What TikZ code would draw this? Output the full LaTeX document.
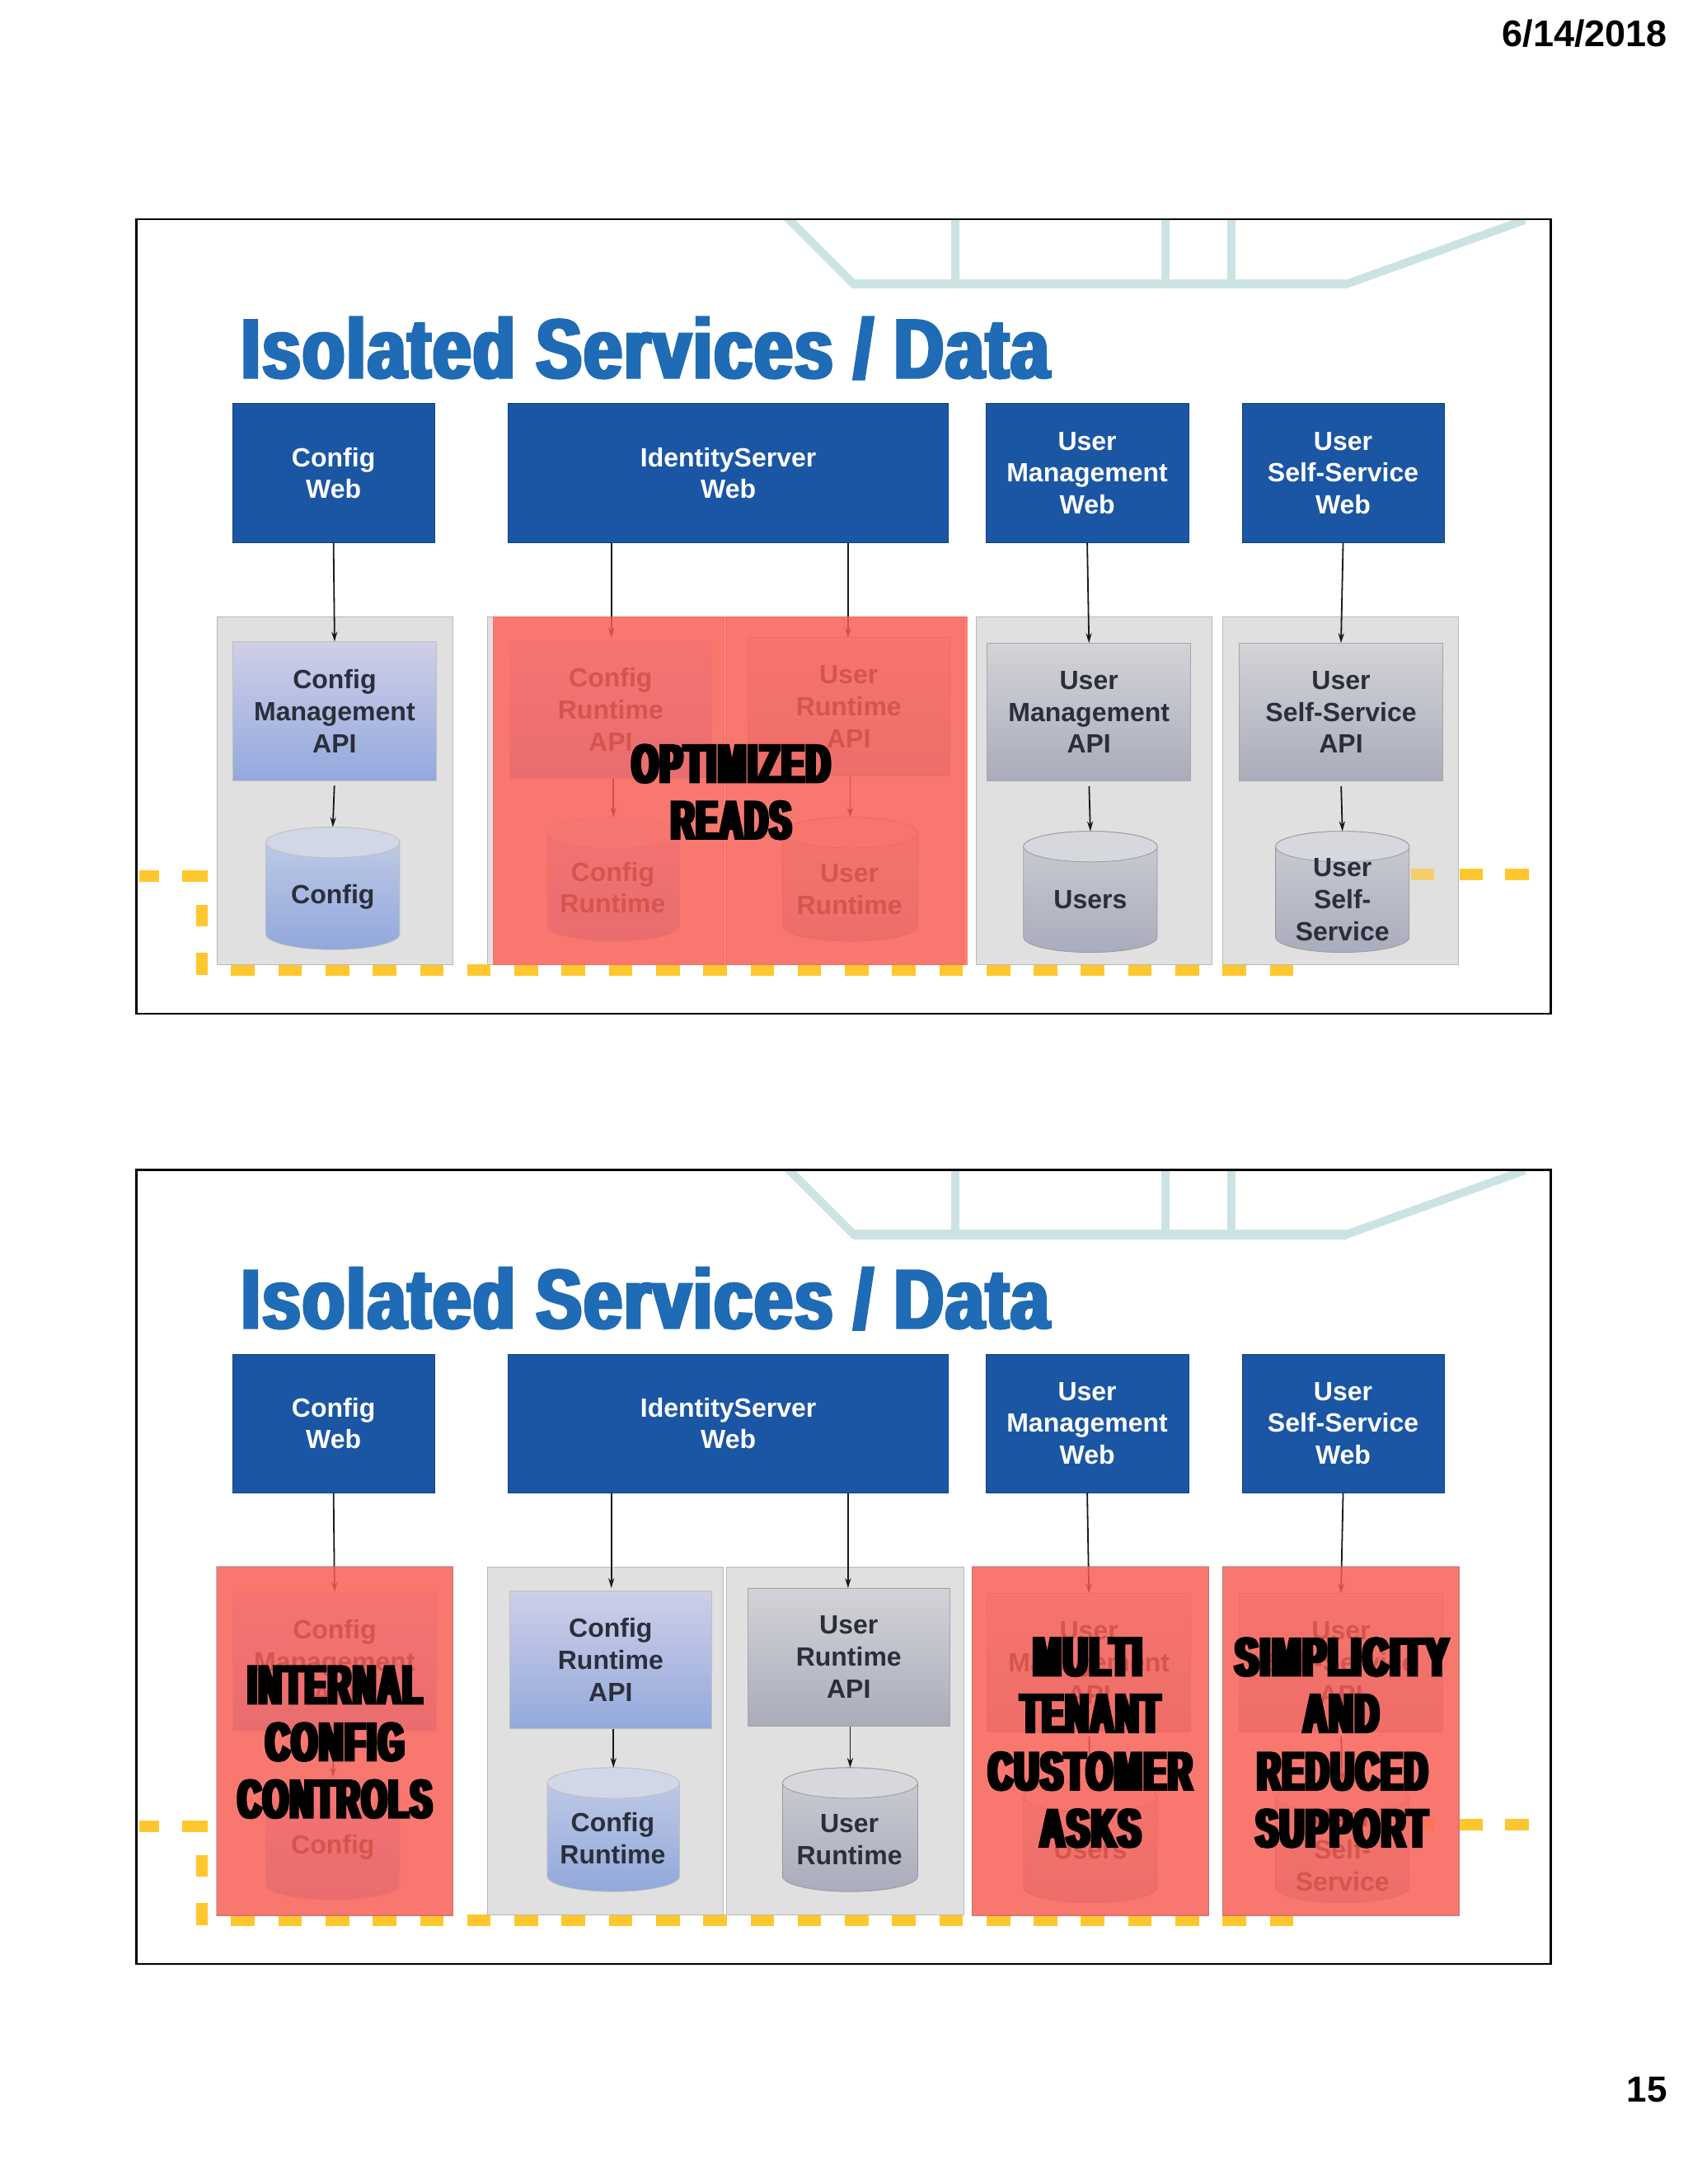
\documentclass[tikz,border=0pt]{standalone}
\usepackage{fontspec}
\usepackage{graphicx}
\usetikzlibrary{arrows.meta,calc}
\setmainfont{Liberation Sans}
\newfontfamily\heavy[FakeStretch=0.15,FakeBold=2.5,LetterSpace=1]{Liberation Sans Bold}
\newfontfamily\ttl[FakeStretch=0.26,FakeBold=1.8,LetterSpace=0.8]{Liberation Sans Bold}
\newdimen\vu \vu=0.8448pt
\definecolor{webblue}{HTML}{1A56A4}
\definecolor{webedge}{HTML}{12407F}
\definecolor{titleblue}{HTML}{1F6BB5}
\definecolor{tealline}{HTML}{CBE3E3}
\definecolor{yel}{HTML}{FFC72E}
\definecolor{hit}{HTML}{FF5E54}
\definecolor{inktxt}{HTML}{2A2F3A}
\tikzset{
  webbox/.style={fill=webblue,draw=webedge,line width=.5pt,text=white,align=center,font=\bfseries\fontsize{16}{19.4}\selectfont,inner sep=0pt},
  panelbox/.style={fill=black!12,draw=black!28,line width=.5pt},
  apitext/.style={text=inktxt,align=center,font=\bfseries\fontsize{16}{19.4}\selectfont,inner sep=0pt},
  blueapi/.style={apitext,draw=black!25,line width=.4pt,top color={rgb,255:red,207;green,207;blue,232},bottom color={rgb,255:red,147;green,169;blue,220}},
  grayapi/.style={apitext,draw=black!35,line width=.4pt,top color={rgb,255:red,211;green,211;blue,216},bottom color={rgb,255:red,169;green,172;blue,186}},
  bluecyl/.style={draw=black!25,line width=.4pt,top color={rgb,255:red,195;green,205;blue,230},bottom color={rgb,255:red,146;green,168;blue,220}},
  graycyl/.style={draw=black!40,line width=.4pt,top color={rgb,255:red,204;green,206;blue,212},bottom color={rgb,255:red,169;green,172;blue,188}},
  bluelid/.style={draw=black!25,line width=.4pt,fill={rgb,255:red,210;green,215;blue,232}},
  graylid/.style={draw=black!40,line width=.4pt,fill={rgb,255:red,214;green,216;blue,222}},
  flow/.style={draw=black!90,line width=.9pt,-{Stealth[length=6pt,width=3.6pt]}},
  hitbox/.style={fill=hit,fill opacity=.8,draw=black!50,draw opacity=.5,line width=.5pt},
  yeldash/.style={draw=yel,line width=6.8pt,dash pattern=on 14.32pt off 14.32pt},
  yelbar/.style={draw=yel,line width=6.8pt},
  slideframe/.style={draw=black,line width=1.4pt},
  tealband/.style={draw=tealline,line width=5pt,line join=miter},
  bigword/.style={text=black,inner sep=0pt},
}
\newcommand\blk[3]{\resizebox{#1\vu}{#2\vu}{\heavy\fontsize{32}{36}\selectfont #3}}
\newcommand\apibox[7]{%
  \node[#6,minimum width=#3\vu-#2\vu,minimum height=#5\vu-#4\vu] (#1) at ({(#2+#3)/2},{(#4+#5)/2}) {#7};}
\newcommand\webnode[6]{%
  \node[webbox,minimum width=#3\vu-#2\vu,minimum height=#5\vu-#4\vu] (#1) at ({(#2+#3)/2},{(#4+#5)/2}) {#6};}
\newcommand\cyl[9]{%
  \pgfmathsetmacro\cc{(#2+#3)/2}\pgfmathsetmacro\cw{(#3-#2)/2}
  \pgfmathsetmacro\ct{#4+11}\pgfmathsetmacro\cb{#5-11}
  \draw[#6cyl] (#2,\ct) -- (#2,\cb) .. controls (#2,\cb+6) and (\cc-.55*\cw,\cb+11) .. (\cc,\cb+11)
     .. controls (\cc+.55*\cw,\cb+11) and (#3,\cb+6) .. (#3,\cb) -- (#3,\ct)
     .. controls (#3,\ct-6) and (\cc+.55*\cw,\ct-11) .. (\cc,\ct-11)
     .. controls (\cc-.55*\cw,\ct-11) and (#2,\ct-6) .. (#2,\ct) -- cycle;
  \draw[#6lid] (\cc,\ct) ellipse [x radius=\cw, y radius=11];
  \coordinate (#1) at (\cc,#4);
  \node[apitext] (#1t) at (#7,#8) {#9};}
\newcommand\drawslide[3]{%
  \begin{scope}
    \clip (98,157.5) rectangle (1113.5,728);
    \draw[tealband] (565,156) -- (613,204) -- (967,204) -- (1095,158);
    \draw[tealband,line width=5.8pt] (613,204) -- (967,204);
    \draw[tealband] (686,156) -- (686,204);
    \draw[tealband] (837,156) -- (837,204);
    \draw[tealband] (884,156) -- (884,204);
  \end{scope}
  \draw[slideframe] (98,157.5) rectangle (1113.5,728);
  \node[anchor=base west,inner sep=0pt,text=titleblue] (#1title) at (173,271.5) {\resizebox{580\vu}{44\vu}{\ttl\fontsize{52}{60}\selectfont Isolated Services / Data}};
  % dashed yellow route
  \draw[yelbar] (100,629) -- (114,629);
  \draw[yelbar] (131,629) -- (149,629);
  \draw[yelbar] (145,650) -- (145,665);
  \draw[yelbar] (145,684) -- (145,700);
  \draw[yeldash] (166,696.5) -- (929,696.5);
  \draw[yelbar] (1048,628) -- (1065,628);
  \draw[yelbar] (1081,628) -- (1098,628);
  % panels
  \draw[panelbox] (156,443) rectangle (325,693);
  \draw[panelbox] (350,443) rectangle (519.5,693);
  \draw[panelbox] (522,443) rectangle (692,693);
  \draw[panelbox] (#2,443) rectangle (#3,693);
  \draw[panelbox] (878,443) rectangle (1047.5,693);
  \draw[yelbar,opacity=.65] (1013,628) -- (1030,628);
  % web row
  \webnode{#1wc}{167}{312}{290}{389.5}{Config\\Web}
  \webnode{#1wi}{365}{681}{290}{389.5}{IdentityServer\\Web}
  \webnode{#1wu}{708}{853.5}{290}{389.5}{User\\Management\\Web}
  \webnode{#1ws}{892}{1037}{290}{389.5}{User\\Self-Service\\Web}
  % api row
  \apibox{#1ac}{167}{313.5}{461}{560.5}{blueapi}{Config\\Management\\API}
  \apibox{#1ar}{366}{511}{460}{559}{blueapi}{Config\\Runtime\\API}
  \apibox{#1ap}{537}{682}{458}{557}{grayapi}{User\\Runtime\\API}
  \apibox{#1au}{709}{855}{462}{561}{grayapi}{User\\Management\\API}
  \apibox{#1as}{890}{1036}{462}{561}{grayapi}{User\\Self-Service\\API}
  % stores
  \cyl{#1dc}{191}{287}{594}{682}{blue}{239}{644}{Config}
  \cyl{#1dr}{393}{488}{587}{676}{blue}{440}{637.5}{Config\\Runtime}
  \cyl{#1dp}{562}{659}{587}{676}{gray}{610}{638.5}{User\\Runtime}
  \cyl{#1du}{735}{831}{597}{684}{gray}{783}{646}{Users}
  \cyl{#1ds}{916}{1012}{597}{684}{gray}{964}{646}{User\\Self-\\Service}
  % connectors
  \draw[flow] (#1wc.south) -- (#1ac.north);
  \draw[flow] (#1wi.south -| 439,0) -- (439,458);
  \draw[flow] (#1wi.south -| 609,0) -- (609,458);
  \draw[flow] (#1wu.south) -- (#1au.north);
  \draw[flow] (#1ws.south) -- (#1as.north);
  \draw[flow,shorten <=3pt] (#1ac.south) -- (#1dc);
  \draw[flow] (#1ar.south -| #1dr) -- (#1dr);
  \draw[flow] (#1ap.south -| #1dp) -- (#1dp);
  \draw[flow,shorten <=3pt] (#1au.south) -- (#1du);
  \draw[flow,shorten <=3pt] (#1as.south) -- (#1ds);
}
\begin{document}
\begin{tikzpicture}[x=\vu,y=-\vu]
  \useasboundingbox (0,0) rectangle (1212.1,1568.5);
  \fill[white] (0,0) rectangle (1212.1,1568.5);
  \node[anchor=east,inner sep=0pt,font=\bfseries\fontsize{22.5}{26}\selectfont] (date) at (1197.5,24) {6/14/2018};
  \node[anchor=east,inner sep=0pt,font=\bfseries\fontsize{22}{26}\selectfont] (pageno) at (1197.5,1501) {15};
  \begin{scope}
    \drawslide{a}{701}{870.5}
    \draw[hitbox,draw=none] (354,443) rectangle (520.5,693);
    \draw[hitbox,draw=none] (520.5,443) rectangle (695,693);
    \node[bigword] (a1) at (525,548.5) {\blk{142}{27.5}{OPTIMIZED}};
    \node[bigword] (a2) at (525,589) {\blk{86}{27.5}{READS}};
  \end{scope}
  \begin{scope}[yshift=-682.5*\vu]
    \drawslide{b}{698}{868}
    \draw[hitbox] (155.5,442.5) rectangle (325.5,693.5);
    \draw[hitbox] (698,442.5) rectangle (868,693.5);
    \draw[hitbox] (878,442.5) rectangle (1048,693.5);
    \node[bigword] (b1) at (240.5,527.5) {\blk{125}{27.5}{INTERNAL}};
    \node[bigword] (b2) at (240.5,568.5) {\blk{99}{27.5}{CONFIG}};
    \node[bigword] (b3) at (240.5,609.5) {\blk{139}{27.5}{CONTROLS}};
    \node[bigword] (b4) at (781,507.5) {\blk{78}{27.5}{MULTI}};
    \node[bigword] (b5) at (783,548) {\blk{100}{27.5}{TENANT}};
    \node[bigword] (b6) at (783,589.5) {\blk{146}{27.5}{CUSTOMER}};
    \node[bigword] (b7) at (783,630.5) {\blk{72}{27.5}{ASKS}};
    \node[bigword] (b8) at (963.5,507.5) {\blk{153}{27.5}{SIMPLICITY}};
    \node[bigword] (b9) at (963,548) {\blk{54}{27.5}{AND}};
    \node[bigword] (b10) at (964,589.5) {\blk{122}{27.5}{REDUCED}};
    \node[bigword] (b11) at (963.5,630.5) {\blk{123}{27.5}{SUPPORT}};
  \end{scope}
\end{tikzpicture}
\end{document}
